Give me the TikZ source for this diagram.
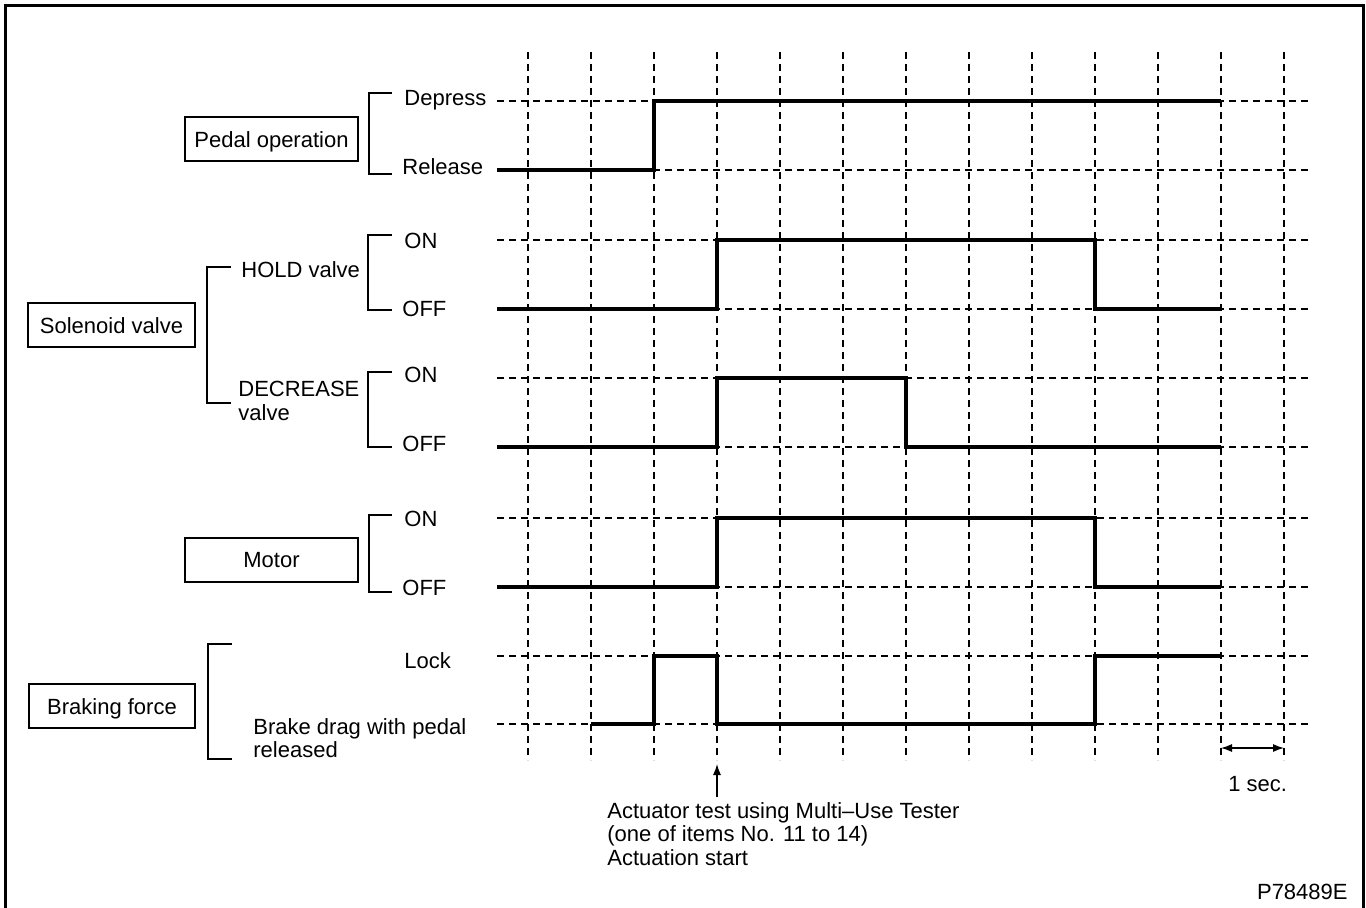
\documentclass[tikz,border=0pt]{standalone}
\usepackage{fontspec}
\setmainfont{Liberation Sans}
\usetikzlibrary{arrows.meta}
\begin{document}
\begin{tikzpicture}[x=0.5pt,y=-0.5pt,
  every node/.style={font=\fontsize{11}{12}\selectfont},
  lbl/.style={inner sep=0pt, anchor=west, text height=8pt, text depth=0pt},
  mlbl/.style={inner sep=0pt, anchor=north west, align=left},
  box/.style={draw, line width=1pt, inner sep=0pt, minimum height=22pt, text height=8pt, text depth=0pt},
  gridline/.style={line width=0.55pt, dash pattern=on 3.5pt off 2.5pt},
  sig/.style={line width=2pt, line join=miter, line cap=butt},
  brk/.style={line width=1pt},
  frameline/.style={line width=1.3pt},
  tip/.style={line width=0.6pt}]
\useasboundingbox (0,0) rectangle (1366,907);
% frame
\draw[frameline] (5.5,910) -- (5.5,5.5) -- (1363.5,5.5) -- (1363.5,910);
% grid
\foreach \i in {0,...,12} \draw[gridline] (528+63*\i,52) -- (528+63*\i,760);
\foreach \y in {101,170,240,309,378,447,518,587,656,724} \draw[gridline] (497,\y) -- (1312,\y);
% boxes
\node[box, minimum width=86.5pt] (pedal) at (271.5,139) {Pedal operation};
\node[box, minimum width=83.5pt] (solenoid) at (111.5,325) {Solenoid valve};
\node[box, minimum width=86.5pt] (motor) at (271.5,559.5) {Motor};
\node[box, minimum width=83pt] (braking) at (112,706) {Braking force};
% brackets
\draw[brk] (392,93) -- (369,93) -- (369,174) -- (392,174);
\draw[brk] (392,235) -- (368,235) -- (368,310) -- (392,310);
\draw[brk] (392,372) -- (368,372) -- (368,447) -- (392,447);
\draw[brk] (392,515) -- (369,515) -- (369,592) -- (392,592);
\draw[brk] (231,267) -- (207,267) -- (207,403) -- (231,403);
\draw[brk] (232,644) -- (208,644) -- (208,759) -- (232,759);
% labels
\node[lbl] (depress) at (404,97) {Depress};
\node[lbl] (release) at (402,166) {Release};
\node[lbl] (holdon) at (404,240) {ON};
\node[lbl] (holdoff) at (402,308) {OFF};
\node[lbl] (hold) at (241,269) {HOLD valve};
\node[mlbl] (decrease) at (238,381) {DECREASE\\valve};
\node[lbl] (decon) at (404,374) {ON};
\node[lbl] (decoff) at (402,443) {OFF};
\node[lbl] (moton) at (404,518) {ON};
\node[lbl] (motoff) at (402,587) {OFF};
\node[lbl] (lock) at (404,660) {Lock};
\node[mlbl, font=\fontsize{11}{11.8}\selectfont] (drag) at (253,718) {Brake drag with pedal\\released};
\node[mlbl, font=\fontsize{11}{11.8}\selectfont] (act) at (607,802) {Actuator test using Multi\textendash Use Tester\\(one of items No. 11 to 14)\\Actuation start};
\node[lbl] (sec) at (1228,783) {1 sec.};
\node[lbl, anchor=east] (code) at (1348,891) {P78489E};
% signals
\draw[sig] (497,170) -- (654,170) -- (654,101) -- (1221,101);
\draw[sig] (497,309) -- (717,309) -- (717,240) -- (1095,240) -- (1095,309) -- (1221,309);
\draw[sig] (497,447) -- (717,447) -- (717,378) -- (906,378) -- (906,447) -- (1221,447);
\draw[sig] (497,587) -- (717,587) -- (717,518) -- (1095,518) -- (1095,587) -- (1221,587);
\draw[sig] (591,724) -- (654,724) -- (654,656) -- (717,656) -- (717,724) -- (1095,724) -- (1095,656) -- (1221,656);
% arrows
\coordinate (atail) at (717,797);
\coordinate (ahead) at (717,764);
\draw[tip, -{Latex[length=5.5pt,width=4pt]}] (atail) -- (ahead);
\coordinate (d1) at (1221,748);
\coordinate (d2) at (1284,748);
\draw[tip, {Latex[length=5.5pt,width=4pt]}-{Latex[length=5.5pt,width=4pt]}] (d1) -- (d2);
\end{tikzpicture}
\end{document}
